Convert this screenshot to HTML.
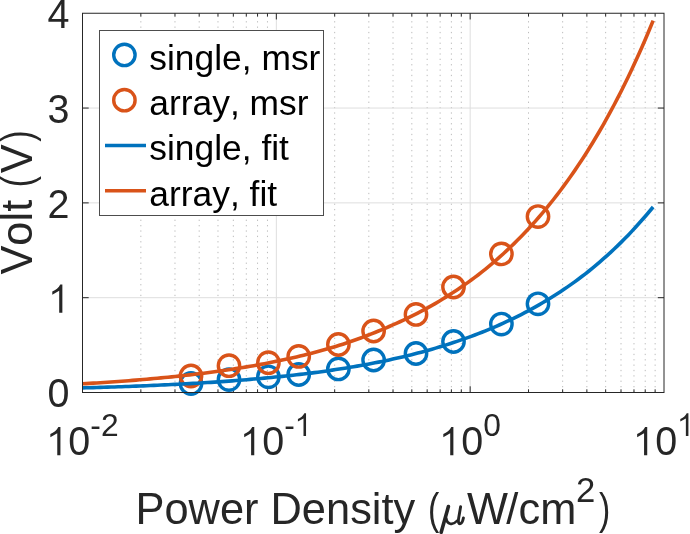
<!DOCTYPE html>
<html><head><meta charset="utf-8"><style>
html,body{margin:0;padding:0;background:#fff;}
svg{display:block;will-change:transform;font-family:"Liberation Sans",sans-serif;font-kerning:none;font-feature-settings:"kern" 0;}
</style></head><body>
<svg width="690" height="534" viewBox="0 0 690 534">
<rect width="690" height="534" fill="#fff"/>
<line x1="140.85" y1="392.5" x2="140.85" y2="13.25" stroke="#bcbcbc" stroke-width="1" stroke-dasharray="1.3 4.065" stroke-dashoffset="0.15" />
<line x1="174.98" y1="392.5" x2="174.98" y2="13.25" stroke="#bcbcbc" stroke-width="1" stroke-dasharray="1.3 4.065" stroke-dashoffset="0.15" />
<line x1="199.20" y1="392.5" x2="199.20" y2="13.25" stroke="#bcbcbc" stroke-width="1" stroke-dasharray="1.3 4.065" stroke-dashoffset="0.15" />
<line x1="217.98" y1="392.5" x2="217.98" y2="13.25" stroke="#bcbcbc" stroke-width="1" stroke-dasharray="1.3 4.065" stroke-dashoffset="0.15" />
<line x1="233.33" y1="392.5" x2="233.33" y2="13.25" stroke="#bcbcbc" stroke-width="1" stroke-dasharray="1.3 4.065" stroke-dashoffset="0.15" />
<line x1="246.31" y1="392.5" x2="246.31" y2="13.25" stroke="#bcbcbc" stroke-width="1" stroke-dasharray="1.3 4.065" stroke-dashoffset="0.15" />
<line x1="257.55" y1="392.5" x2="257.55" y2="13.25" stroke="#bcbcbc" stroke-width="1" stroke-dasharray="1.3 4.065" stroke-dashoffset="0.15" />
<line x1="267.46" y1="392.5" x2="267.46" y2="13.25" stroke="#bcbcbc" stroke-width="1" stroke-dasharray="1.3 4.065" stroke-dashoffset="0.15" />
<line x1="334.68" y1="392.5" x2="334.68" y2="13.25" stroke="#bcbcbc" stroke-width="1" stroke-dasharray="1.3 4.065" stroke-dashoffset="0.15" />
<line x1="368.82" y1="392.5" x2="368.82" y2="13.25" stroke="#bcbcbc" stroke-width="1" stroke-dasharray="1.3 4.065" stroke-dashoffset="0.15" />
<line x1="393.03" y1="392.5" x2="393.03" y2="13.25" stroke="#bcbcbc" stroke-width="1" stroke-dasharray="1.3 4.065" stroke-dashoffset="0.15" />
<line x1="411.82" y1="392.5" x2="411.82" y2="13.25" stroke="#bcbcbc" stroke-width="1" stroke-dasharray="1.3 4.065" stroke-dashoffset="0.15" />
<line x1="427.16" y1="392.5" x2="427.16" y2="13.25" stroke="#bcbcbc" stroke-width="1" stroke-dasharray="1.3 4.065" stroke-dashoffset="0.15" />
<line x1="440.14" y1="392.5" x2="440.14" y2="13.25" stroke="#bcbcbc" stroke-width="1" stroke-dasharray="1.3 4.065" stroke-dashoffset="0.15" />
<line x1="451.38" y1="392.5" x2="451.38" y2="13.25" stroke="#bcbcbc" stroke-width="1" stroke-dasharray="1.3 4.065" stroke-dashoffset="0.15" />
<line x1="461.30" y1="392.5" x2="461.30" y2="13.25" stroke="#bcbcbc" stroke-width="1" stroke-dasharray="1.3 4.065" stroke-dashoffset="0.15" />
<line x1="528.52" y1="392.5" x2="528.52" y2="13.25" stroke="#bcbcbc" stroke-width="1" stroke-dasharray="1.3 4.065" stroke-dashoffset="0.15" />
<line x1="562.65" y1="392.5" x2="562.65" y2="13.25" stroke="#bcbcbc" stroke-width="1" stroke-dasharray="1.3 4.065" stroke-dashoffset="0.15" />
<line x1="586.87" y1="392.5" x2="586.87" y2="13.25" stroke="#bcbcbc" stroke-width="1" stroke-dasharray="1.3 4.065" stroke-dashoffset="0.15" />
<line x1="605.65" y1="392.5" x2="605.65" y2="13.25" stroke="#bcbcbc" stroke-width="1" stroke-dasharray="1.3 4.065" stroke-dashoffset="0.15" />
<line x1="621.00" y1="392.5" x2="621.00" y2="13.25" stroke="#bcbcbc" stroke-width="1" stroke-dasharray="1.3 4.065" stroke-dashoffset="0.15" />
<line x1="633.97" y1="392.5" x2="633.97" y2="13.25" stroke="#bcbcbc" stroke-width="1" stroke-dasharray="1.3 4.065" stroke-dashoffset="0.15" />
<line x1="645.22" y1="392.5" x2="645.22" y2="13.25" stroke="#bcbcbc" stroke-width="1" stroke-dasharray="1.3 4.065" stroke-dashoffset="0.15" />
<line x1="655.13" y1="392.5" x2="655.13" y2="13.25" stroke="#bcbcbc" stroke-width="1" stroke-dasharray="1.3 4.065" stroke-dashoffset="0.15" />
<line x1="276.33" y1="13.25" x2="276.33" y2="392.5" stroke="#dedede" stroke-width="1" />
<line x1="470.17" y1="13.25" x2="470.17" y2="392.5" stroke="#dedede" stroke-width="1" />
<line x1="82.5" y1="297.69" x2="664.0" y2="297.69" stroke="#dedede" stroke-width="1" />
<line x1="82.5" y1="202.88" x2="664.0" y2="202.88" stroke="#dedede" stroke-width="1" />
<line x1="82.5" y1="108.06" x2="664.0" y2="108.06" stroke="#dedede" stroke-width="1" />
<line x1="276.33" y1="392.5" x2="276.33" y2="386.3" stroke="#262626" stroke-width="1"/>
<line x1="276.33" y1="13.25" x2="276.33" y2="19.45" stroke="#262626" stroke-width="1"/>
<line x1="470.17" y1="392.5" x2="470.17" y2="386.3" stroke="#262626" stroke-width="1"/>
<line x1="470.17" y1="13.25" x2="470.17" y2="19.45" stroke="#262626" stroke-width="1"/>
<line x1="140.85" y1="392.5" x2="140.85" y2="389.3" stroke="#262626" stroke-width="1"/>
<line x1="140.85" y1="13.25" x2="140.85" y2="16.45" stroke="#262626" stroke-width="1"/>
<line x1="174.98" y1="392.5" x2="174.98" y2="389.3" stroke="#262626" stroke-width="1"/>
<line x1="174.98" y1="13.25" x2="174.98" y2="16.45" stroke="#262626" stroke-width="1"/>
<line x1="199.20" y1="392.5" x2="199.20" y2="389.3" stroke="#262626" stroke-width="1"/>
<line x1="199.20" y1="13.25" x2="199.20" y2="16.45" stroke="#262626" stroke-width="1"/>
<line x1="217.98" y1="392.5" x2="217.98" y2="389.3" stroke="#262626" stroke-width="1"/>
<line x1="217.98" y1="13.25" x2="217.98" y2="16.45" stroke="#262626" stroke-width="1"/>
<line x1="233.33" y1="392.5" x2="233.33" y2="389.3" stroke="#262626" stroke-width="1"/>
<line x1="233.33" y1="13.25" x2="233.33" y2="16.45" stroke="#262626" stroke-width="1"/>
<line x1="246.31" y1="392.5" x2="246.31" y2="389.3" stroke="#262626" stroke-width="1"/>
<line x1="246.31" y1="13.25" x2="246.31" y2="16.45" stroke="#262626" stroke-width="1"/>
<line x1="257.55" y1="392.5" x2="257.55" y2="389.3" stroke="#262626" stroke-width="1"/>
<line x1="257.55" y1="13.25" x2="257.55" y2="16.45" stroke="#262626" stroke-width="1"/>
<line x1="267.46" y1="392.5" x2="267.46" y2="389.3" stroke="#262626" stroke-width="1"/>
<line x1="267.46" y1="13.25" x2="267.46" y2="16.45" stroke="#262626" stroke-width="1"/>
<line x1="334.68" y1="392.5" x2="334.68" y2="389.3" stroke="#262626" stroke-width="1"/>
<line x1="334.68" y1="13.25" x2="334.68" y2="16.45" stroke="#262626" stroke-width="1"/>
<line x1="368.82" y1="392.5" x2="368.82" y2="389.3" stroke="#262626" stroke-width="1"/>
<line x1="368.82" y1="13.25" x2="368.82" y2="16.45" stroke="#262626" stroke-width="1"/>
<line x1="393.03" y1="392.5" x2="393.03" y2="389.3" stroke="#262626" stroke-width="1"/>
<line x1="393.03" y1="13.25" x2="393.03" y2="16.45" stroke="#262626" stroke-width="1"/>
<line x1="411.82" y1="392.5" x2="411.82" y2="389.3" stroke="#262626" stroke-width="1"/>
<line x1="411.82" y1="13.25" x2="411.82" y2="16.45" stroke="#262626" stroke-width="1"/>
<line x1="427.16" y1="392.5" x2="427.16" y2="389.3" stroke="#262626" stroke-width="1"/>
<line x1="427.16" y1="13.25" x2="427.16" y2="16.45" stroke="#262626" stroke-width="1"/>
<line x1="440.14" y1="392.5" x2="440.14" y2="389.3" stroke="#262626" stroke-width="1"/>
<line x1="440.14" y1="13.25" x2="440.14" y2="16.45" stroke="#262626" stroke-width="1"/>
<line x1="451.38" y1="392.5" x2="451.38" y2="389.3" stroke="#262626" stroke-width="1"/>
<line x1="451.38" y1="13.25" x2="451.38" y2="16.45" stroke="#262626" stroke-width="1"/>
<line x1="461.30" y1="392.5" x2="461.30" y2="389.3" stroke="#262626" stroke-width="1"/>
<line x1="461.30" y1="13.25" x2="461.30" y2="16.45" stroke="#262626" stroke-width="1"/>
<line x1="528.52" y1="392.5" x2="528.52" y2="389.3" stroke="#262626" stroke-width="1"/>
<line x1="528.52" y1="13.25" x2="528.52" y2="16.45" stroke="#262626" stroke-width="1"/>
<line x1="562.65" y1="392.5" x2="562.65" y2="389.3" stroke="#262626" stroke-width="1"/>
<line x1="562.65" y1="13.25" x2="562.65" y2="16.45" stroke="#262626" stroke-width="1"/>
<line x1="586.87" y1="392.5" x2="586.87" y2="389.3" stroke="#262626" stroke-width="1"/>
<line x1="586.87" y1="13.25" x2="586.87" y2="16.45" stroke="#262626" stroke-width="1"/>
<line x1="605.65" y1="392.5" x2="605.65" y2="389.3" stroke="#262626" stroke-width="1"/>
<line x1="605.65" y1="13.25" x2="605.65" y2="16.45" stroke="#262626" stroke-width="1"/>
<line x1="621.00" y1="392.5" x2="621.00" y2="389.3" stroke="#262626" stroke-width="1"/>
<line x1="621.00" y1="13.25" x2="621.00" y2="16.45" stroke="#262626" stroke-width="1"/>
<line x1="633.97" y1="392.5" x2="633.97" y2="389.3" stroke="#262626" stroke-width="1"/>
<line x1="633.97" y1="13.25" x2="633.97" y2="16.45" stroke="#262626" stroke-width="1"/>
<line x1="645.22" y1="392.5" x2="645.22" y2="389.3" stroke="#262626" stroke-width="1"/>
<line x1="645.22" y1="13.25" x2="645.22" y2="16.45" stroke="#262626" stroke-width="1"/>
<line x1="655.13" y1="392.5" x2="655.13" y2="389.3" stroke="#262626" stroke-width="1"/>
<line x1="655.13" y1="13.25" x2="655.13" y2="16.45" stroke="#262626" stroke-width="1"/>
<line x1="82.5" y1="297.69" x2="88.7" y2="297.69" stroke="#262626" stroke-width="1"/>
<line x1="664.0" y1="297.69" x2="657.8" y2="297.69" stroke="#262626" stroke-width="1"/>
<line x1="82.5" y1="202.88" x2="88.7" y2="202.88" stroke="#262626" stroke-width="1"/>
<line x1="664.0" y1="202.88" x2="657.8" y2="202.88" stroke="#262626" stroke-width="1"/>
<line x1="82.5" y1="108.06" x2="88.7" y2="108.06" stroke="#262626" stroke-width="1"/>
<line x1="664.0" y1="108.06" x2="657.8" y2="108.06" stroke="#262626" stroke-width="1"/>
<circle cx="191" cy="383.5" r="10.7" fill="none" stroke="#0072BD" stroke-width="3.4"/>
<circle cx="229" cy="379.6" r="10.7" fill="none" stroke="#0072BD" stroke-width="3.4"/>
<circle cx="268.4" cy="376.8" r="10.7" fill="none" stroke="#0072BD" stroke-width="3.4"/>
<circle cx="298.7" cy="374.5" r="10.7" fill="none" stroke="#0072BD" stroke-width="3.4"/>
<circle cx="338.4" cy="368.9" r="10.7" fill="none" stroke="#0072BD" stroke-width="3.4"/>
<circle cx="373.6" cy="360" r="10.7" fill="none" stroke="#0072BD" stroke-width="3.4"/>
<circle cx="416" cy="353.5" r="10.7" fill="none" stroke="#0072BD" stroke-width="3.4"/>
<circle cx="453.5" cy="341.5" r="10.7" fill="none" stroke="#0072BD" stroke-width="3.4"/>
<circle cx="501.4" cy="324.1" r="10.7" fill="none" stroke="#0072BD" stroke-width="3.4"/>
<circle cx="538" cy="303.8" r="10.7" fill="none" stroke="#0072BD" stroke-width="3.4"/>
<circle cx="191" cy="376" r="10.7" fill="none" stroke="#D95319" stroke-width="3.4"/>
<circle cx="229" cy="365.7" r="10.7" fill="none" stroke="#D95319" stroke-width="3.4"/>
<circle cx="268.4" cy="362.7" r="10.7" fill="none" stroke="#D95319" stroke-width="3.4"/>
<circle cx="298.7" cy="356.4" r="10.7" fill="none" stroke="#D95319" stroke-width="3.4"/>
<circle cx="338.4" cy="344.5" r="10.7" fill="none" stroke="#D95319" stroke-width="3.4"/>
<circle cx="373.6" cy="331" r="10.7" fill="none" stroke="#D95319" stroke-width="3.4"/>
<circle cx="416" cy="314.4" r="10.7" fill="none" stroke="#D95319" stroke-width="3.4"/>
<circle cx="453.5" cy="287" r="10.7" fill="none" stroke="#D95319" stroke-width="3.4"/>
<circle cx="501.4" cy="253.9" r="10.7" fill="none" stroke="#D95319" stroke-width="3.4"/>
<circle cx="538" cy="216.6" r="10.7" fill="none" stroke="#D95319" stroke-width="3.4"/>
<polyline points="82.50,387.90 86.07,387.80 89.63,387.69 93.20,387.58 96.77,387.48 100.33,387.37 103.90,387.27 107.47,387.16 111.03,387.04 114.60,386.93 118.17,386.81 121.73,386.69 125.30,386.57 128.86,386.44 132.43,386.31 136.00,386.17 139.56,386.03 143.13,385.88 146.70,385.73 150.26,385.57 153.83,385.40 157.40,385.23 160.96,385.06 164.53,384.89 168.10,384.72 171.66,384.54 175.23,384.36 178.80,384.18 182.36,383.99 185.93,383.80 189.50,383.61 193.06,383.41 196.63,383.20 200.20,382.99 203.76,382.78 207.33,382.56 210.89,382.33 214.46,382.10 218.03,381.86 221.59,381.62 225.16,381.36 228.73,381.11 232.29,380.84 235.86,380.56 239.43,380.28 242.99,379.99 246.56,379.69 250.13,379.38 253.69,379.06 257.26,378.74 260.83,378.42 264.39,378.09 267.96,377.76 271.53,377.42 275.09,377.07 278.66,376.72 282.23,376.36 285.79,375.99 289.36,375.61 292.92,375.22 296.49,374.82 300.06,374.41 303.62,373.99 307.19,373.56 310.76,373.11 314.32,372.64 317.89,372.17 321.46,371.67 325.02,371.17 328.59,370.66 332.16,370.13 335.72,369.59 339.29,369.05 342.86,368.49 346.42,367.91 349.99,367.33 353.56,366.73 357.12,366.12 360.69,365.49 364.26,364.85 367.82,364.19 371.39,363.52 374.95,362.83 378.52,362.12 382.09,361.40 385.65,360.66 389.22,359.90 392.79,359.11 396.35,358.31 399.92,357.49 403.49,356.65 407.05,355.79 410.62,354.91 414.19,354.01 417.75,353.09 421.32,352.14 424.89,351.17 428.45,350.18 432.02,349.17 435.59,348.13 439.15,347.07 442.72,345.99 446.29,344.87 449.85,343.74 453.42,342.57 456.98,341.38 460.55,340.16 464.12,338.91 467.68,337.64 471.25,336.33 474.82,335.00 478.38,333.63 481.95,332.23 485.52,330.80 489.08,329.33 492.65,327.83 496.22,326.30 499.78,324.73 503.35,323.13 506.92,321.48 510.48,319.80 514.05,318.08 517.62,316.32 521.18,314.52 524.75,312.68 528.31,310.79 531.88,308.86 535.45,306.88 539.01,304.86 542.58,302.79 546.15,300.67 549.71,298.50 553.28,296.29 556.85,294.02 560.41,291.69 563.98,289.31 567.55,286.88 571.11,284.39 574.68,281.84 578.25,279.24 581.81,276.56 585.38,273.82 588.95,270.99 592.51,268.09 596.08,265.12 599.65,262.08 603.21,258.97 606.78,255.80 610.34,252.56 613.91,249.26 617.48,245.89 621.04,242.41 624.61,238.83 628.18,235.16 631.74,231.38 635.31,227.52 638.88,223.58 642.44,219.55 646.01,215.45 649.58,211.27 653.14,207.03" fill="none" stroke="#0072BD" stroke-width="3.6"/>
<polyline points="82.50,383.80 86.07,383.59 89.63,383.38 93.20,383.16 96.77,382.94 100.33,382.71 103.90,382.48 107.47,382.24 111.03,382.00 114.60,381.75 118.17,381.49 121.73,381.23 125.30,380.97 128.86,380.69 132.43,380.41 136.00,380.12 139.56,379.83 143.13,379.53 146.70,379.22 150.26,378.91 153.83,378.58 157.40,378.25 160.96,377.91 164.53,377.57 168.10,377.21 171.66,376.85 175.23,376.48 178.80,376.10 182.36,375.71 185.93,375.31 189.50,374.90 193.06,374.48 196.63,374.06 200.20,373.62 203.76,373.17 207.33,372.71 210.89,372.24 214.46,371.76 218.03,371.27 221.59,370.76 225.16,370.25 228.73,369.72 232.29,369.18 235.86,368.63 239.43,368.06 242.99,367.48 246.56,366.88 250.13,366.28 253.69,365.65 257.26,365.02 260.83,364.36 264.39,363.69 267.96,363.01 271.53,362.31 275.09,361.59 278.66,360.86 282.23,360.11 285.79,359.34 289.36,358.55 292.92,357.75 296.49,356.92 300.06,356.08 303.62,355.21 307.19,354.33 310.76,353.42 314.32,352.49 317.89,351.54 321.46,350.57 325.02,349.57 328.59,348.55 332.16,347.51 335.72,346.43 339.29,345.32 342.86,344.17 346.42,342.99 349.99,341.78 353.56,340.54 357.12,339.26 360.69,337.96 364.26,336.63 367.82,335.26 371.39,333.87 374.95,332.46 378.52,331.01 382.09,329.54 385.65,328.04 389.22,326.51 392.79,324.96 396.35,323.37 399.92,321.75 403.49,320.09 407.05,318.39 410.62,316.66 414.19,314.89 417.75,313.07 421.32,311.21 424.89,309.31 428.45,307.36 432.02,305.36 435.59,303.32 439.15,301.22 442.72,299.07 446.29,296.86 449.85,294.60 453.42,292.29 456.98,289.94 460.55,287.55 464.12,285.11 467.68,282.61 471.25,280.05 474.82,277.42 478.38,274.72 481.95,271.95 485.52,269.09 489.08,266.16 492.65,263.16 496.22,260.09 499.78,256.94 503.35,253.72 506.92,250.43 510.48,247.05 514.05,243.60 517.62,240.07 521.18,236.45 524.75,232.74 528.31,228.95 531.88,225.06 535.45,221.09 539.01,217.02 542.58,212.85 546.15,208.58 549.71,204.22 553.28,199.75 556.85,195.17 560.41,190.48 563.98,185.69 567.55,180.78 571.11,175.75 574.68,170.60 578.25,165.33 581.81,159.94 585.38,154.42 588.95,148.76 592.51,142.98 596.08,137.05 599.65,130.99 603.21,124.78 606.78,118.42 610.34,111.91 613.91,105.25 617.48,98.43 621.04,91.45 624.61,84.30 628.18,76.98 631.74,69.49 635.31,61.82 638.88,53.97 642.44,45.93 646.01,37.70 649.58,29.27 653.14,20.65" fill="none" stroke="#D95319" stroke-width="3.6"/>
<rect x="82.5" y="13.25" width="581.5" height="379.25" fill="none" stroke="#262626" stroke-width="1"/>
<rect x="99.5" y="30.5" width="224.0" height="185.0" fill="#fff" stroke="#4d4d4d" stroke-width="1"/>
<circle cx="124.4" cy="54.9" r="10.7" fill="none" stroke="#0072BD" stroke-width="3.4"/>
<circle cx="124.4" cy="100.2" r="10.7" fill="none" stroke="#D95319" stroke-width="3.4"/>
<line x1="105" y1="145.5" x2="146" y2="145.5" stroke="#0072BD" stroke-width="3.6"/>
<line x1="105" y1="190.8" x2="146" y2="190.8" stroke="#D95319" stroke-width="3.6"/>
<text transform="translate(149.3,69.70) scale(1,0.98)" font-size="35.4" fill="#000">single, msr</text>
<text transform="translate(149.3,115.00) scale(1,0.98)" font-size="35.4" fill="#000">array, msr</text>
<text transform="translate(149.3,160.30) scale(1,0.98)" font-size="35.4" fill="#000">single, fit</text>
<text transform="translate(149.3,205.60) scale(1,0.98)" font-size="35.4" fill="#000">array, fit</text>
<text transform="translate(69.50,407.20) scale(1,1.015)" font-size="39.5" text-anchor="end" fill="#262626">0</text>
<path transform="translate(48.34,312.69) scale(0.03950,-0.04009)" d="M355 704L355 0L275 0L275 548L100 450L100 531C182 562 268 622 302 704Z" fill="#262626"/>
<text transform="translate(69.50,217.57) scale(1,1.015)" font-size="39.5" text-anchor="end" fill="#262626">2</text>
<text transform="translate(69.50,122.76) scale(1,1.015)" font-size="39.5" text-anchor="end" fill="#262626">3</text>
<text transform="translate(69.50,27.95) scale(1,1.015)" font-size="39.5" text-anchor="end" fill="#262626">4</text>
<path transform="translate(46.40,455.20) scale(0.03950,-0.04009)" d="M355 704L355 0L275 0L275 548L100 450L100 531C182 562 268 622 302 704Z" fill="#262626"/>
<text transform="translate(68.36,455.20) scale(1,1.015)" font-size="39.5" fill="#262626">0</text>
<text transform="translate(90.33,436.10) scale(1,1.015)" font-size="31.8" fill="#262626">-</text>
<text transform="translate(100.92,436.10) scale(1,1.015)" font-size="31.8" fill="#262626">2</text>
<path transform="translate(240.24,455.20) scale(0.03950,-0.04009)" d="M355 704L355 0L275 0L275 548L100 450L100 531C182 562 268 622 302 704Z" fill="#262626"/>
<text transform="translate(262.20,455.20) scale(1,1.015)" font-size="39.5" fill="#262626">0</text>
<text transform="translate(284.16,436.10) scale(1,1.015)" font-size="31.8" fill="#262626">-</text>
<path transform="translate(294.75,436.10) scale(0.03180,-0.03228)" d="M355 704L355 0L275 0L275 548L100 450L100 531C182 562 268 622 302 704Z" fill="#262626"/>
<path transform="translate(439.36,455.20) scale(0.03950,-0.04009)" d="M355 704L355 0L275 0L275 548L100 450L100 531C182 562 268 622 302 704Z" fill="#262626"/>
<text transform="translate(461.33,455.20) scale(1,1.015)" font-size="39.5" fill="#262626">0</text>
<text transform="translate(483.29,436.10) scale(1,1.015)" font-size="31.8" fill="#262626">0</text>
<path transform="translate(633.20,455.20) scale(0.03950,-0.04009)" d="M355 704L355 0L275 0L275 548L100 450L100 531C182 562 268 622 302 704Z" fill="#262626"/>
<text transform="translate(655.16,455.20) scale(1,1.015)" font-size="39.5" fill="#262626">0</text>
<path transform="translate(677.12,436.10) scale(0.03180,-0.03228)" d="M355 704L355 0L275 0L275 548L100 450L100 531C182 562 268 622 302 704Z" fill="#262626"/>
<text transform="translate(135.45,523.50) scale(1,1.04)" font-size="43.4" fill="#262626">P</text>
<text transform="translate(164.40,523.50) scale(1,1.015)" font-size="43.4" fill="#262626">o</text>
<text transform="translate(188.53,523.50) scale(1,1.015)" font-size="43.4" fill="#262626">w</text>
<text transform="translate(219.88,523.50) scale(1,1.015)" font-size="43.4" fill="#262626">e</text>
<text transform="translate(244.01,523.50) scale(1,1.015)" font-size="43.4" fill="#262626">r</text>
<text transform="translate(270.52,523.50) scale(1,1.04)" font-size="43.4" fill="#262626">D</text>
<text transform="translate(301.87,523.50) scale(1,1.015)" font-size="43.4" fill="#262626">e</text>
<text transform="translate(326.00,523.50) scale(1,1.015)" font-size="43.4" fill="#262626">n</text>
<text transform="translate(350.14,523.50) scale(1,1.015)" font-size="43.4" fill="#262626">s</text>
<text transform="translate(371.84,523.50) scale(1,1.015)" font-size="43.4" fill="#262626">i</text>
<text transform="translate(381.48,523.50) scale(1,1.015)" font-size="43.4" fill="#262626">t</text>
<text transform="translate(393.54,523.50) scale(1,1.015)" font-size="43.4" fill="#262626">y</text>
<text transform="translate(427.89,523.50) scale(0.78,1.015)" font-size="43.4" fill="#262626">(</text>
<g fill="none" stroke="#262626" stroke-linecap="round"><path d="M448.4 506.6 L441.2 532.2" stroke-width="3.6"/><path d="M446.3 518.5 C446.9 524.2 452.6 525.8 456.8 521.0" stroke-width="2.6"/><path d="M460.6 506.8 L458.6 518.5 C458.0 522.3 458.7 524.0 460.4 523.6 C461.9 523.2 462.9 520.6 463.4 518.0" stroke-width="2.9"/></g>
<text transform="translate(466.90,523.50) scale(1,1.04)" font-size="43.4" fill="#262626">W</text>
<text transform="translate(506.20,523.50) scale(1,1.015)" font-size="43.4" fill="#262626">/</text>
<text transform="translate(518.60,523.50) scale(1,1.015)" font-size="43.4" fill="#262626">c</text>
<text transform="translate(540.30,523.50) scale(1,1.015)" font-size="43.4" fill="#262626">m</text>
<text transform="translate(576.10,502.30) scale(1,1.02)" font-size="34.7" fill="#262626">2</text>
<text transform="translate(598.89,523.50) scale(0.78,1.015)" font-size="43.4" fill="#262626">)</text>
<g transform="translate(31.8,274.6) rotate(-90)"><text transform="translate(0.00,0.00) scale(1,1.04)" font-size="43.4" fill="#262626">V</text><text transform="translate(28.95,0.00) scale(1,1.015)" font-size="43.4" fill="#262626">o</text><text transform="translate(53.08,0.00) scale(1,1.015)" font-size="43.4" fill="#262626">l</text><text transform="translate(62.73,0.00) scale(1,1.015)" font-size="43.4" fill="#262626">t</text><text transform="translate(87.43,0.00) scale(0.78,1.015)" font-size="43.4" fill="#262626">(</text><text transform="translate(101.29,0.00) scale(1,1.04)" font-size="43.4" fill="#262626">V</text><text transform="translate(132.83,0.00) scale(0.78,1.015)" font-size="43.4" fill="#262626">)</text></g>
</svg>
</body></html>
